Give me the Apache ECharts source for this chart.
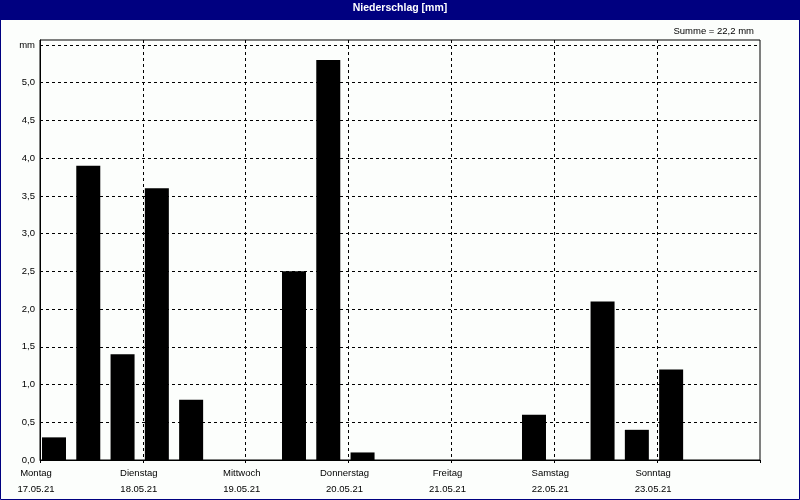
<!DOCTYPE html>
<html>
<head>
<meta charset="utf-8">
<script src="https://cdn.jsdelivr.net/npm/echarts@6/dist/echarts.min.js"></script>
<style>
html,body{margin:0;padding:0;background:#fcfefc;}
#chart{width:800px;height:500px;}
</style>
</head>
<body>
<div id="chart"></div>
<script>
// 8-hour periods, 3 per day, Monday 17.05.21 .. Sunday 23.05.21
const days = ['Montag','Dienstag','Mittwoch','Donnerstag','Freitag','Samstag','Sonntag'];
const dates = ['17.05.21','18.05.21','19.05.21','20.05.21','21.05.21','22.05.21','23.05.21'];
const periods = ['Mo 1','Mo 2','Mo 3','Di 1','Di 2','Di 3','Mi 1','Mi 2','Mi 3','Do 1','Do 2','Do 3',
                 'Fr 1','Fr 2','Fr 3','Sa 1','Sa 2','Sa 3','So 1','So 2','So 3'];
const rain = [0.3,3.9,1.4, 3.6,0.8,0.0, 0.0,2.5,5.3, 0.1,0.0,0.0, 0.0,0.0,0.6, 0.0,2.1,0.4, 1.2,0.0,0.0];
const yTicks = [0,0.5,1,1.5,2,2.5,3,3.5,4,4.5,5,5.5];

const total = rain.reduce((a,b)=>a+b,0);
const fmt = v => v.toFixed(1).replace('.', ',');
const FONT = '"Liberation Sans", Arial, sans-serif';

const chart = echarts.init(document.getElementById('chart'), null, {renderer:'canvas'});
chart.setOption({
  backgroundColor: '#fcfefc',
  animation: false,
  graphic: [
    {type:'rect', z:0, shape:{x:0,y:0,width:800,height:20}, style:{fill:'#000080'}},
    {type:'rect', z:0, shape:{x:0.5,y:0.5,width:799,height:499}, style:{fill:null, stroke:'#000080', lineWidth:1}}
  ],
  title: [
    {text:'Niederschlag [mm]', left:'center', top:3, padding:0,
     textStyle:{color:'#ffffff', fontFamily:FONT, fontSize:10.5, fontWeight:'bold'}},
    {text:'Summe = ' + fmt(total) + ' mm', right:46, top:26, padding:0,
     textStyle:{color:'#000000', fontFamily:FONT, fontSize:9.5, fontWeight:'normal'}}
  ],
  grid: {left:40, right:40, top:40, bottom:40, show:true, borderColor:'#000', borderWidth:1, backgroundColor:'transparent'},
  xAxis: [
    {type:'category', data:periods, show:false, boundaryGap:true},
    {type:'value', min:0, max:periods.length, interval:3, position:'bottom',
     axisLine:{show:true, lineStyle:{color:'#000', width:1}},
     axisTick:{show:true, length:3, lineStyle:{color:'#000'}},
     splitLine:{show:true, showMinLine:false, showMaxLine:false, lineStyle:{color:'#000', type:[3,3], width:1}},
     axisLabel:{color:'#000', fontFamily:FONT, fontSize:9.5, margin:5, lineHeight:16,
       padding:[0,8,0,0],
       formatter: v => { const i = Math.round(v/3); return i < days.length ? days[i] + '\n' + dates[i] : ''; }}
    }
  ],
  yAxis: {type:'value', min:0, max:5.566, interval:0.5,
    axisLine:{show:true, lineStyle:{color:'#000'}},
    axisTick:{show:false},
    splitLine:{show:true, showMinLine:false, showMaxLine:false, lineStyle:{color:'#000', type:[3,3], width:1}},
    axisLabel:{color:'#000', fontFamily:FONT, fontSize:9.5, margin:5, showMaxLabel:false,
      formatter: v => {
        const t = yTicks.find(x => Math.abs(x - v) < 1e-6);
        if (t === undefined) return '';
        return t === 5.5 ? 'mm' : fmt(t);
      }}
  },
  series: [
    {type:'bar', xAxisIndex:0, data:rain, barWidth:24, barGap:0,
     itemStyle:{color:'#000000'}, silent:true},
    {type:'bar', xAxisIndex:0, data:rain.map(()=>null), barWidth:6.3, barGap:0,
     itemStyle:{color:'transparent'}, silent:true}
  ]
});
</script>
</body>
</html>
